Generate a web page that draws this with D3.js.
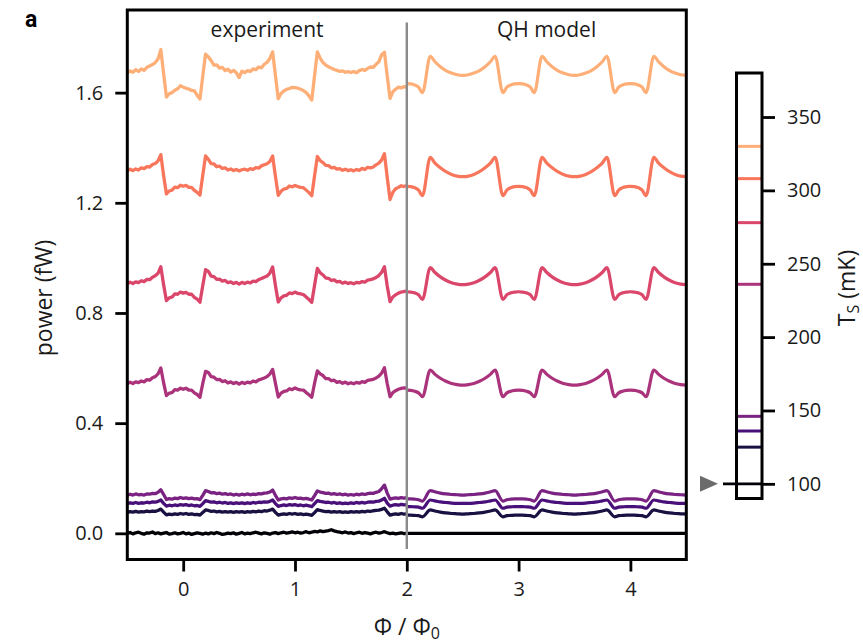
<!DOCTYPE html>
<html>
<head>
<meta charset="utf-8">
<script src="https://cdn.jsdelivr.net/npm/d3@7"></script>
<style>
  body { margin: 0; background: #fff; }
</style>
</head>
<body>
<svg id="chart" width="863" height="644"></svg>
<script>
// Sample temperatures (mK), lowest first
const temps = [100, 125, 136, 146, 236, 278, 308, 330];

// Measured flux sweep: sample positions in units of the flux quantum
const phiExp = d3.range(101).map(i => -0.5 + i * 0.025);

const exp330 = [
  1.672, 1.679, 1.674, 1.683, 1.677, 1.686, 1.681, 1.692, 1.697, 1.702,
  1.709, 1.722, 1.756, 1.668, 1.584, 1.596, 1.600, 1.609, 1.614, 1.625,
  1.620, 1.616, 1.613, 1.608, 1.606, 1.590, 1.577, 1.660, 1.740, 1.730,
  1.716, 1.700, 1.701, 1.689, 1.692, 1.680, 1.685, 1.675, 1.681, 1.672,
  1.655, 1.678, 1.673, 1.680, 1.677, 1.686, 1.683, 1.693, 1.690, 1.703,
  1.710, 1.724, 1.748, 1.662, 1.578, 1.597, 1.606, 1.612, 1.615, 1.619,
  1.618, 1.616, 1.612, 1.608, 1.600, 1.588, 1.573, 1.662, 1.748, 1.725,
  1.709, 1.700, 1.694, 1.689, 1.684, 1.681, 1.677, 1.679, 1.674, 1.676,
  1.673, 1.677, 1.672, 1.680, 1.684, 1.681, 1.688, 1.693, 1.692, 1.703,
  1.712, 1.738, 1.747, 1.660, 1.579, 1.603, 1.612, 1.620, 1.617, 1.622,
  1.619];
const exp308 = [
  1.316, 1.322, 1.317, 1.323, 1.319, 1.327, 1.324, 1.331, 1.330, 1.339,
  1.343, 1.352, 1.375, 1.298, 1.232, 1.243, 1.246, 1.257, 1.255, 1.264,
  1.260, 1.263, 1.256, 1.256, 1.245, 1.238, 1.228, 1.300, 1.370, 1.358,
  1.342, 1.341, 1.331, 1.333, 1.325, 1.327, 1.319, 1.323, 1.317, 1.321,
  1.316, 1.320, 1.322, 1.318, 1.324, 1.321, 1.328, 1.326, 1.334, 1.338,
  1.342, 1.350, 1.370, 1.296, 1.227, 1.242, 1.250, 1.252, 1.261, 1.258,
  1.263, 1.259, 1.256, 1.255, 1.246, 1.237, 1.226, 1.298, 1.368, 1.353,
  1.346, 1.336, 1.335, 1.327, 1.329, 1.322, 1.324, 1.318, 1.322, 1.317,
  1.320, 1.316, 1.321, 1.318, 1.325, 1.321, 1.329, 1.327, 1.330, 1.338,
  1.344, 1.356, 1.378, 1.292, 1.212, 1.238, 1.251, 1.256, 1.262, 1.259,
  1.263];
const exp278 = [
  0.906, 0.912, 0.907, 0.913, 0.910, 0.917, 0.914, 0.922, 0.921, 0.930,
  0.935, 0.944, 0.968, 0.902, 0.845, 0.855, 0.858, 0.869, 0.868, 0.876,
  0.872, 0.875, 0.868, 0.868, 0.857, 0.850, 0.839, 0.900, 0.957, 0.951,
  0.934, 0.932, 0.922, 0.923, 0.916, 0.918, 0.910, 0.913, 0.907, 0.911,
  0.905, 0.911, 0.907, 0.912, 0.909, 0.916, 0.914, 0.921, 0.925, 0.930,
  0.934, 0.945, 0.967, 0.900, 0.840, 0.855, 0.862, 0.864, 0.873, 0.870,
  0.876, 0.871, 0.869, 0.867, 0.858, 0.849, 0.839, 0.901, 0.962, 0.946,
  0.938, 0.927, 0.926, 0.918, 0.920, 0.913, 0.915, 0.908, 0.912, 0.907,
  0.910, 0.906, 0.911, 0.909, 0.914, 0.912, 0.919, 0.921, 0.924, 0.929,
  0.936, 0.948, 0.968, 0.898, 0.841, 0.858, 0.866, 0.872, 0.876, 0.878,
  0.879];
const exp236 = [
  0.543, 0.549, 0.544, 0.550, 0.547, 0.553, 0.550, 0.558, 0.556, 0.565,
  0.569, 0.579, 0.600, 0.546, 0.500, 0.509, 0.511, 0.522, 0.520, 0.527,
  0.523, 0.527, 0.520, 0.520, 0.510, 0.504, 0.494, 0.544, 0.588, 0.584,
  0.569, 0.567, 0.558, 0.559, 0.551, 0.554, 0.546, 0.550, 0.544, 0.548,
  0.542, 0.548, 0.544, 0.549, 0.546, 0.553, 0.550, 0.557, 0.560, 0.564,
  0.569, 0.578, 0.595, 0.545, 0.495, 0.509, 0.515, 0.517, 0.525, 0.522,
  0.528, 0.523, 0.521, 0.520, 0.511, 0.503, 0.494, 0.545, 0.590, 0.579,
  0.573, 0.562, 0.562, 0.554, 0.556, 0.548, 0.551, 0.545, 0.549, 0.543,
  0.547, 0.543, 0.548, 0.545, 0.551, 0.548, 0.555, 0.557, 0.559, 0.564,
  0.571, 0.582, 0.601, 0.543, 0.496, 0.511, 0.518, 0.523, 0.526, 0.528,
  0.527];
const exp146 = [
  0.138, 0.142, 0.139, 0.143, 0.140, 0.141, 0.139, 0.143, 0.142, 0.145,
  0.144, 0.149, 0.158, 0.141, 0.123, 0.126, 0.124, 0.128, 0.126, 0.130,
  0.127, 0.129, 0.126, 0.128, 0.125, 0.126, 0.122, 0.138, 0.155, 0.152,
  0.147, 0.148, 0.144, 0.146, 0.142, 0.144, 0.141, 0.143, 0.139, 0.142,
  0.139, 0.142, 0.140, 0.143, 0.140, 0.142, 0.141, 0.144, 0.143, 0.146,
  0.147, 0.150, 0.157, 0.138, 0.121, 0.125, 0.127, 0.125, 0.129, 0.127,
  0.130, 0.127, 0.128, 0.125, 0.127, 0.124, 0.121, 0.137, 0.154, 0.150,
  0.148, 0.145, 0.146, 0.142, 0.144, 0.141, 0.143, 0.140, 0.142, 0.139,
  0.141, 0.139, 0.142, 0.140, 0.143, 0.141, 0.144, 0.146, 0.145, 0.149,
  0.152, 0.162, 0.175, 0.146, 0.124, 0.127, 0.129, 0.127, 0.130, 0.128,
  0.130];
const exp136 = [
  0.108, 0.111, 0.109, 0.112, 0.109, 0.111, 0.110, 0.113, 0.111, 0.114,
  0.113, 0.116, 0.121, 0.109, 0.099, 0.102, 0.100, 0.103, 0.101, 0.104,
  0.102, 0.104, 0.101, 0.103, 0.100, 0.101, 0.098, 0.108, 0.119, 0.116,
  0.113, 0.114, 0.111, 0.113, 0.110, 0.112, 0.109, 0.111, 0.108, 0.111,
  0.109, 0.111, 0.108, 0.111, 0.109, 0.112, 0.110, 0.113, 0.112, 0.114,
  0.113, 0.116, 0.121, 0.108, 0.098, 0.101, 0.103, 0.101, 0.104, 0.102,
  0.104, 0.101, 0.103, 0.100, 0.102, 0.100, 0.097, 0.108, 0.119, 0.116,
  0.114, 0.112, 0.113, 0.110, 0.112, 0.109, 0.111, 0.108, 0.110, 0.108,
  0.111, 0.109, 0.112, 0.110, 0.112, 0.110, 0.113, 0.114, 0.113, 0.116,
  0.117, 0.121, 0.127, 0.110, 0.099, 0.102, 0.104, 0.102, 0.105, 0.103,
  0.104];
const exp125 = [
  0.076, 0.079, 0.077, 0.080, 0.077, 0.079, 0.078, 0.081, 0.079, 0.081,
  0.080, 0.083, 0.088, 0.077, 0.067, 0.070, 0.068, 0.071, 0.069, 0.072,
  0.070, 0.072, 0.069, 0.071, 0.068, 0.069, 0.066, 0.076, 0.085, 0.083,
  0.080, 0.081, 0.078, 0.080, 0.077, 0.079, 0.077, 0.079, 0.076, 0.079,
  0.077, 0.079, 0.076, 0.079, 0.077, 0.080, 0.078, 0.081, 0.079, 0.082,
  0.081, 0.084, 0.088, 0.076, 0.066, 0.069, 0.071, 0.069, 0.072, 0.070,
  0.072, 0.069, 0.071, 0.068, 0.070, 0.068, 0.065, 0.075, 0.086, 0.083,
  0.081, 0.079, 0.080, 0.077, 0.079, 0.077, 0.079, 0.076, 0.078, 0.076,
  0.079, 0.077, 0.079, 0.077, 0.080, 0.078, 0.081, 0.080, 0.082, 0.083,
  0.084, 0.087, 0.091, 0.078, 0.066, 0.069, 0.071, 0.069, 0.072, 0.070,
  0.071];
const exp100 = [
  0.001, 0.003, -0.002, 0.002, 0.004, 0.000, -0.003, 0.002, 0.001, 0.005,
  -0.001, 0.002, -0.002, 0.001, 0.003, -0.003, -0.001, 0.002, -0.002, 0.000,
  0.003, -0.002, 0.001, -0.004, -0.001, 0.002, 0.000, -0.003, 0.001, -0.002,
  0.002, -0.001, 0.003, 0.000, -0.004, -0.002, 0.001, -0.001, 0.002, -0.003,
  0.000, 0.003, -0.002, 0.001, -0.001, 0.002, 0.004, 0.001, -0.002, 0.002,
  0.000, -0.003, 0.001, 0.003, -0.001, 0.002, 0.004, 0.001, 0.003, 0.005,
  0.002, 0.004, 0.001, 0.003, 0.006, 0.002, 0.004, 0.007, 0.005, 0.009,
  0.006, 0.008, 0.010, 0.013, 0.009, 0.006, 0.004, 0.002, 0.005, 0.001,
  0.003, -0.001, 0.002, 0.004, 0.000, 0.003, 0.001, -0.002, 0.002, 0.004,
  0.001, 0.003, 0.006, 0.002, -0.001, 0.001, -0.002, 0.000, 0.002, -0.001,
  0.000];

// Quantum Hall model: sample positions
const phiModel = [
  2.0, 2.035, 2.07, 2.105, 2.14,
  2.21, 2.25, 2.3, 2.35, 2.4, 2.45, 2.5, 2.55, 2.6, 2.65, 2.7, 2.75, 2.79,
  2.86, 2.895, 2.93, 2.965, 3.0, 3.035, 3.07, 3.105, 3.14,
  3.21, 3.25, 3.3, 3.35, 3.4, 3.45, 3.5, 3.55, 3.6, 3.65, 3.7, 3.75, 3.79,
  3.86, 3.895, 3.93, 3.965, 4.0, 4.035, 4.07, 4.105, 4.14,
  4.21, 4.25, 4.3, 4.35, 4.4, 4.45, 4.5];

const model330 = [
  1.633, 1.632, 1.628, 1.620, 1.600,
  1.732, 1.713, 1.694, 1.680, 1.671, 1.665, 1.663, 1.665, 1.671, 1.680, 1.694, 1.713, 1.732,
  1.600, 1.620, 1.628, 1.632, 1.633, 1.632, 1.628, 1.620, 1.600,
  1.732, 1.713, 1.694, 1.680, 1.671, 1.665, 1.663, 1.665, 1.671, 1.680, 1.694, 1.713, 1.732,
  1.600, 1.620, 1.628, 1.632, 1.633, 1.632, 1.628, 1.620, 1.600,
  1.732, 1.713, 1.694, 1.680, 1.671, 1.665, 1.663];
const model308 = [
  1.260, 1.259, 1.255, 1.246, 1.226,
  1.365, 1.345, 1.327, 1.313, 1.303, 1.297, 1.295, 1.297, 1.303, 1.313, 1.327, 1.345, 1.365,
  1.226, 1.246, 1.255, 1.259, 1.260, 1.259, 1.255, 1.246, 1.226,
  1.365, 1.345, 1.327, 1.313, 1.303, 1.297, 1.295, 1.297, 1.303, 1.313, 1.327, 1.345, 1.365,
  1.226, 1.246, 1.255, 1.259, 1.260, 1.259, 1.255, 1.246, 1.226,
  1.365, 1.345, 1.327, 1.313, 1.303, 1.297, 1.295];
const model278 = [
  0.877, 0.876, 0.873, 0.866, 0.849,
  0.965, 0.948, 0.931, 0.919, 0.910, 0.905, 0.903, 0.905, 0.910, 0.919, 0.931, 0.948, 0.965,
  0.849, 0.866, 0.873, 0.876, 0.877, 0.876, 0.873, 0.866, 0.849,
  0.965, 0.948, 0.931, 0.919, 0.910, 0.905, 0.903, 0.905, 0.910, 0.919, 0.931, 0.948, 0.965,
  0.849, 0.866, 0.873, 0.876, 0.877, 0.876, 0.873, 0.866, 0.849,
  0.965, 0.948, 0.931, 0.919, 0.910, 0.905, 0.903];
const model236 = [
  0.520, 0.519, 0.516, 0.510, 0.496,
  0.593, 0.578, 0.563, 0.552, 0.544, 0.540, 0.538, 0.540, 0.544, 0.552, 0.563, 0.578, 0.593,
  0.496, 0.510, 0.516, 0.519, 0.520, 0.519, 0.516, 0.510, 0.496,
  0.593, 0.578, 0.563, 0.552, 0.544, 0.540, 0.538, 0.540, 0.544, 0.552, 0.563, 0.578, 0.593,
  0.496, 0.510, 0.516, 0.519, 0.520, 0.519, 0.516, 0.510, 0.496,
  0.593, 0.578, 0.563, 0.552, 0.544, 0.540, 0.538];
const model146 = [
  0.125, 0.125, 0.124, 0.122, 0.117,
  0.155, 0.151, 0.146, 0.143, 0.141, 0.140, 0.139, 0.140, 0.141, 0.143, 0.146, 0.151, 0.155,
  0.117, 0.122, 0.124, 0.125, 0.125, 0.125, 0.124, 0.122, 0.117,
  0.155, 0.151, 0.146, 0.143, 0.141, 0.140, 0.139, 0.140, 0.141, 0.143, 0.146, 0.151, 0.155,
  0.117, 0.122, 0.124, 0.125, 0.125, 0.125, 0.124, 0.122, 0.117,
  0.155, 0.151, 0.146, 0.143, 0.141, 0.140, 0.139];
const model136 = [
  0.097, 0.097, 0.096, 0.095, 0.091,
  0.121, 0.118, 0.114, 0.112, 0.110, 0.109, 0.109, 0.109, 0.110, 0.112, 0.114, 0.118, 0.121,
  0.091, 0.095, 0.096, 0.097, 0.097, 0.097, 0.096, 0.095, 0.091,
  0.121, 0.118, 0.114, 0.112, 0.110, 0.109, 0.109, 0.109, 0.110, 0.112, 0.114, 0.118, 0.121,
  0.091, 0.095, 0.096, 0.097, 0.097, 0.097, 0.096, 0.095, 0.091,
  0.121, 0.118, 0.114, 0.112, 0.110, 0.109, 0.109];
const model125 = [
  0.066, 0.066, 0.065, 0.064, 0.060,
  0.085, 0.081, 0.077, 0.074, 0.072, 0.071, 0.070, 0.071, 0.072, 0.074, 0.077, 0.081, 0.085,
  0.060, 0.064, 0.065, 0.066, 0.066, 0.066, 0.065, 0.064, 0.060,
  0.085, 0.081, 0.077, 0.074, 0.072, 0.071, 0.070, 0.071, 0.072, 0.074, 0.077, 0.081, 0.085,
  0.060, 0.064, 0.065, 0.066, 0.066, 0.066, 0.065, 0.064, 0.060,
  0.085, 0.081, 0.077, 0.074, 0.072, 0.071, 0.070];
const model100 = [
  0, 0, 0, 0, 0,
  0, 0, 0, 0, 0, 0, 0, 0, 0, 0, 0, 0, 0,
  0, 0, 0, 0, 0, 0, 0, 0, 0,
  0, 0, 0, 0, 0, 0, 0, 0, 0, 0, 0, 0, 0,
  0, 0, 0, 0, 0, 0, 0, 0, 0,
  0, 0, 0, 0, 0, 0, 0];

const expSeries = [exp100, exp125, exp136, exp146, exp236, exp278, exp308, exp330];
const modelSeries = [model100, model125, model136, model146, model236, model278, model308, model330];

// Axis ticks
const powerTicks = [0.0, 0.4, 0.8, 1.2, 1.6];
const phiTicks = [0, 1, 2, 3, 4];
const tempTicks = [100, 150, 200, 250, 300, 350];
const panelTitles = ["experiment", "QH model"];

// ---------------------------------------------------------------
const svg = d3.select("#chart");
const FONT = "'Open Sans', Lato, 'DejaVu Sans', sans-serif";
const textColor = "#1a1a1a";

svg.append("rect").attr("width", 863).attr("height", 644).attr("fill", "#fff");

const x = d3.scaleLinear().domain([-0.5, 4.5]).range([127.3, 686.3]);
const y = d3.scaleLinear().domain([-0.095, 1.9]).range([559.5, 10]);

const colorOf = i => d3.interpolateMagma(0.83 * i / (temps.length - 1));

svg.append("clipPath").attr("id", "plot-clip")
  .append("rect")
  .attr("x", x(-0.5)).attr("y", y(1.9))
  .attr("width", x(4.5) - x(-0.5)).attr("height", y(-0.095) - y(1.9));

const plot = svg.append("g").attr("clip-path", "url(#plot-clip)");

const expLine = d3.line()
  .x((d, i) => x(phiExp[i]))
  .y(d => y(d))
  .curve(d3.curveLinear);

const modelLine = d3.line()
  .x((d, i) => x(phiModel[i]))
  .y(d => y(d))
  .curve(d3.curveMonotoneX);

temps.forEach((t, i) => {
  plot.append("path")
    .datum(expSeries[i])
    .attr("d", expLine)
    .attr("fill", "none")
    .attr("stroke", colorOf(i))
    .attr("stroke-width", 3.3)
    .attr("stroke-linejoin", "round");
  plot.append("path")
    .datum(modelSeries[i])
    .attr("d", modelLine)
    .attr("fill", "none")
    .attr("stroke", colorOf(i))
    .attr("stroke-width", 3.2)
    .attr("stroke-linejoin", "round");
});

// divider between measured and modelled halves
svg.append("line")
  .attr("x1", x(2)).attr("x2", x(2))
  .attr("y1", y(1.855)).attr("y2", y(-0.057))
  .attr("stroke", "#8a8a8a")
  .attr("stroke-width", 2.4);

// panel titles
svg.selectAll("text.panel-title")
  .data(panelTitles)
  .join("text")
  .attr("class", "panel-title")
  .attr("x", (d, i) => i === 0 ? x(0.75) : x(3.25))
  .attr("y", 37)
  .attr("text-anchor", "middle")
  .attr("font-family", FONT)
  .attr("font-size", 21)
  .attr("fill", textColor)
  .text(d => d);

// frame
svg.append("rect")
  .attr("x", x(-0.5)).attr("y", y(1.9))
  .attr("width", x(4.5) - x(-0.5)).attr("height", y(-0.095) - y(1.9))
  .attr("fill", "none")
  .attr("stroke", "#000")
  .attr("stroke-width", 3);

// axes
const yAxis = svg.append("g")
  .attr("transform", `translate(${x(-0.5)},0)`)
  .call(d3.axisLeft(y).tickValues(powerTicks).tickFormat(d3.format(".1f")).tickSize(12).tickPadding(12));
const xAxis = svg.append("g")
  .attr("transform", `translate(0,${y(-0.095)})`)
  .call(d3.axisBottom(x).tickValues(phiTicks).tickFormat(d3.format("d")).tickSize(12).tickPadding(10));

[yAxis, xAxis].forEach(g => {
  g.select(".domain").remove();
  g.selectAll(".tick line").attr("stroke", "#000").attr("stroke-width", 2.8);
  g.selectAll(".tick text")
    .attr("font-family", FONT)
    .attr("font-size", 20)
    .attr("fill", textColor);
});

// axis titles
svg.append("text")
  .attr("transform", "translate(52,298) rotate(-90)")
  .attr("text-anchor", "middle")
  .attr("font-family", FONT)
  .attr("font-size", 23)
  .attr("fill", textColor)
  .text("power (fW)");

const xTitle = svg.append("text")
  .attr("x", x(2))
  .attr("y", 635)
  .attr("text-anchor", "middle")
  .attr("font-family", FONT)
  .attr("font-size", 23)
  .attr("fill", textColor);
xTitle.append("tspan").text("Φ / Φ");
xTitle.append("tspan").attr("font-size", 16).attr("dy", 4).text("0");

// panel letter
svg.append("text")
  .attr("x", 25).attr("y", 27)
  .attr("font-family", "Roboto, 'Noto Sans', 'DejaVu Sans'")
  .attr("font-weight", 700)
  .attr("font-size", 23)
  .attr("fill", "#000")
  .text("a");

// ---------------- temperature colour bar ----------------
const cb = { x0: 736.5, x1: 762 };
const cbY = d3.scaleLinear().domain([90, 380]).range([498.5, 73]);

svg.append("rect")
  .attr("x", cb.x0).attr("y", cbY(380))
  .attr("width", cb.x1 - cb.x0).attr("height", cbY(90) - cbY(380))
  .attr("fill", "#fff");

temps.forEach((t, i) => {
  if (i === 0) return;
  svg.append("line")
    .attr("x1", cb.x0).attr("x2", cb.x1)
    .attr("y1", cbY(t)).attr("y2", cbY(t))
    .attr("stroke", colorOf(i))
    .attr("stroke-width", 3);
});

svg.append("rect")
  .attr("x", cb.x0).attr("y", cbY(380))
  .attr("width", cb.x1 - cb.x0).attr("height", cbY(90) - cbY(380))
  .attr("fill", "none")
  .attr("stroke", "#000")
  .attr("stroke-width", 3);

// base temperature marker: black line through the bar plus pointer
svg.append("line")
  .attr("x1", 723).attr("x2", cb.x1)
  .attr("y1", cbY(temps[0])).attr("y2", cbY(temps[0]))
  .attr("stroke", colorOf(0))
  .attr("stroke-width", 2.8);
svg.append("path")
  .attr("d", d3.line()([[700, cbY(temps[0]) - 8], [718, cbY(temps[0])], [700, cbY(temps[0]) + 8]]))
  .attr("fill", "#6b6b6b");

const cbAxis = svg.append("g")
  .attr("transform", `translate(${cb.x1},0)`)
  .call(d3.axisRight(cbY).tickValues(tempTicks).tickSize(13).tickPadding(12));
cbAxis.select(".domain").remove();
cbAxis.selectAll(".tick line").attr("stroke", "#000").attr("stroke-width", 2.8);
cbAxis.selectAll(".tick text")
  .attr("font-family", FONT)
  .attr("font-size", 20)
  .attr("fill", textColor);

const cbTitle = svg.append("text")
  .attr("transform", "translate(855,288) rotate(-90)")
  .attr("text-anchor", "middle")
  .attr("font-family", FONT)
  .attr("font-size", 23)
  .attr("fill", textColor);
cbTitle.append("tspan").text("T");
cbTitle.append("tspan").attr("font-size", 16).attr("dy", 4).text("S");
cbTitle.append("tspan").attr("dy", -4).text(" (mK)");
</script>
</body>
</html>
